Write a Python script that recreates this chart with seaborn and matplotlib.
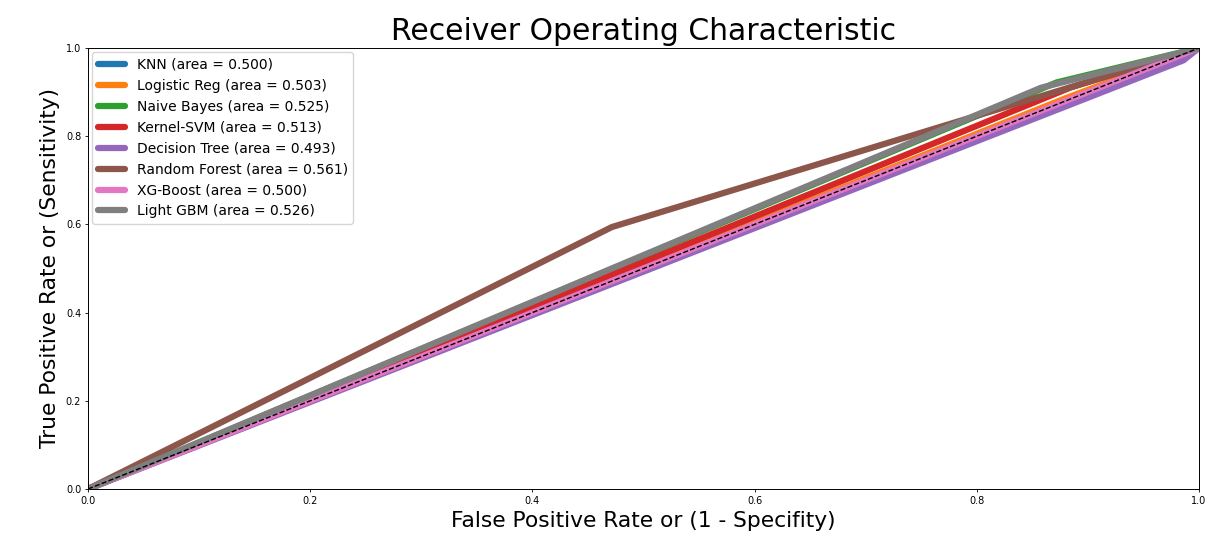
import matplotlib
matplotlib.use("Agg")
import matplotlib.pyplot as plt
import seaborn as sns
import pandas as pd

models = ["KNN", "Logistic Reg", "Naive Bayes", "Kernel-SVM", "Decision Tree",
          "Random Forest", "XG-Boost", "Light GBM"]
aucs = [0.500, 0.503, 0.525, 0.513, 0.493, 0.561, 0.500, 0.526]
# ROC points (fpr, tpr) per model
fpr_pts = [[0.0, 1.0],
           [0.0, 0.88, 1.0],
           [0.0, 0.872, 1.0],
           [0.0, 0.884, 1.0],
           [0.0, 0.986, 1.0],
           [0.0, 0.4716, 1.0],
           [0.0, 1.0],
           [0.0, 0.858, 1.0]]
tpr_pts = [[0.0, 1.0],
           [0.0, 0.886, 1.0],
           [0.0, 0.922, 1.0],
           [0.0, 0.91, 1.0],
           [0.0, 0.972, 1.0],
           [0.0, 0.594, 1.0],
           [0.0, 1.0],
           [0.0, 0.91, 1.0]]

colors = sns.color_palette("tab10", 8)

sns.set_style("ticks", {"axes.edgecolor": "black", "text.color": "black",
                        "axes.labelcolor": "black", "xtick.color": "black",
                        "ytick.color": "black"})
plt.rcParams['font.family'] = ['DejaVu Sans']

fig = plt.figure(figsize=(12.15, 5.41), dpi=100)
ax = fig.add_axes([0.0724, 0.0961, 0.9144, 0.8152])

for i, (m, a) in enumerate(zip(models, aucs)):
    df = pd.DataFrame({"fpr": fpr_pts[i], "tpr": tpr_pts[i]})
    sns.lineplot(data=df, x="fpr", y="tpr", ax=ax, color=colors[i], lw=4.5,
                 label=f"{m} (area = {a:.3f})", sort=False, estimator=None)

sns.lineplot(x=[0, 1], y=[0, 1], ax=ax, color="black", lw=1, linestyle="--",
             legend=False)

ax.set_xlim(0, 1)
ax.set_ylim(0, 1)
ax.set_title("Receiver Operating Characteristic", fontsize=21.5)
ax.set_xlabel("False Positive Rate or (1 - Specifity)", fontsize=15.7)
ax.set_ylabel("True Positive Rate or (Sensitivity)", fontsize=15.7)
ax.tick_params(labelsize=7, length=2.4, width=0.6, pad=2.5)
ax.legend(loc="upper left", fontsize=10, borderaxespad=0.3)
for s in ax.spines.values():
    s.set_visible(True)
    s.set_linewidth(0.7)

fig.savefig("out.png", dpi=100)
